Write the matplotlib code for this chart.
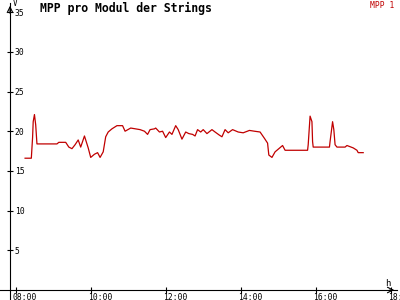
import matplotlib
matplotlib.use("Agg")
import matplotlib.pyplot as plt
import matplotlib.transforms as mtransforms

# MPP 1 readings (time of day, volts)
times = ["08:15", "08:25", "08:27", "08:28", "08:30", "08:32", "08:34", "08:52",
         "09:06", "09:09", "09:20", "09:25", "09:30", "09:35", "09:40", "09:44",
         "09:50", "09:56", "10:00", "10:06", "10:11", "10:15", "10:20", "10:24",
         "10:28", "10:34", "10:42", "10:51", "10:55", "11:04", "11:19", "11:26",
         "11:31", "11:35", "11:42", "11:44", "11:50", "11:55", "12:00", "12:06",
         "12:10", "12:16", "12:20", "12:26", "12:32", "12:37", "12:43", "12:47",
         "12:51", "12:56", "13:00", "13:06", "13:14", "13:19", "13:26", "13:30",
         "13:35", "13:40", "13:47", "13:56", "14:04", "14:14", "14:22", "14:31",
         "14:38", "14:43", "14:45", "14:50", "14:55", "15:01", "15:07", "15:11",
         "15:47", "15:48", "15:51", "15:54", "15:55", "15:56", "16:22", "16:23",
         "16:27", "16:29", "16:31", "16:34", "16:47", "16:50", "17:00", "17:06",
         "17:08", "17:16"]
mpp1 = [16.6, 16.6, 19.2, 21.2, 22.1, 20.8, 18.4, 18.4,
        18.4, 18.6, 18.6, 18.0, 17.8, 18.3, 18.9, 18.0,
        19.4, 17.9, 16.7, 17.1, 17.3, 16.7, 17.4, 19.3,
        19.9, 20.3, 20.7, 20.7, 20.0, 20.4, 20.2, 20.0,
        19.6, 20.2, 20.3, 20.4, 19.9, 20.0, 19.2, 19.9,
        19.6, 20.7, 20.2, 19.0, 19.9, 19.7, 19.6, 19.4,
        20.2, 19.9, 20.2, 19.7, 20.2, 19.9, 19.5, 19.3,
        20.2, 19.8, 20.2, 19.9, 19.8, 20.1, 20.0, 19.9,
        19.1, 18.5, 17.0, 16.7, 17.4, 17.8, 18.2, 17.6,
        17.6, 18.3, 21.9, 21.2, 18.7, 18.0, 18.0, 18.7,
        21.2, 20.2, 18.3, 18.0, 18.0, 18.2, 17.9, 17.6,
        17.3, 17.3]

xtick_hours = [8, 10, 12, 14, 16, 18]
xtick_labels = ["08:00", "10:00", "12:00", "14:00", "16:00", "18:"]
ytick_vals = [5, 10, 15, 20, 25, 30, 35]

title = "MPP pro Modul der Strings"
red = "#c00000"
mono = "DejaVu Sans Mono"


def to_hours(s):
    hh, mm = s.split(":")
    return int(hh) + int(mm) / 60.0


hours = [to_hours(t) for t in times]

fig = plt.figure(figsize=(4, 3), dpi=100)
ax = fig.add_axes([0, 0, 397 / 400, 297 / 300])
ax.set_xlim(7.5813, 18.168)
ax.set_ylim(-1.26, 36.15)

ax.plot(hours, mpp1, color=red, lw=0.9)

# axes crossing at 07:52 / 0 V
x0 = 7.848
ax.spines["left"].set_position(("data", x0))
ax.spines["bottom"].set_position(("data", 0))
ax.spines["top"].set_visible(False)
ax.spines["right"].set_visible(False)
for s in ("left", "bottom"):
    ax.spines[s].set_linewidth(0.8)

ax.set_xticks(xtick_hours)
ax.set_xticklabels(xtick_labels, family=mono, fontsize=5.8)
ax.set_yticks(ytick_vals)
ax.set_yticklabels([str(v) for v in ytick_vals], family=mono, fontsize=5.8)
ax.tick_params(axis="both", direction="inout", length=5, width=0.8)
ax.tick_params(axis="x", pad=0)
ax.tick_params(axis="y", pad=-6)

shift = mtransforms.ScaledTranslation(-3 / 100, 0, fig.dpi_scale_trans)
for lbl in ax.get_xticklabels():
    lbl.set_ha("left")
    lbl.set_transform(lbl.get_transform() + shift)
for lbl in ax.get_yticklabels():
    lbl.set_ha("left")

# arrow heads
ax.annotate("", xy=(x0, 36.15), xytext=(x0, 34.5),
            arrowprops=dict(arrowstyle="->", lw=0.8, color="black"),
            annotation_clip=False)
ax.annotate("", xy=(18.168, 0), xytext=(17.9, 0),
            arrowprops=dict(arrowstyle="->", lw=0.8, color="black"),
            annotation_clip=False)

fig.text(13 / 400, 1 - 4 / 300, "V", family=mono, fontsize=5.5, va="center")
fig.text(385 / 400, 1 - 283 / 300, "h", family=mono, fontsize=6.5, va="center")
fig.text(40 / 400, 1 - 8 / 300, title, family=mono, fontsize=8.3,
         fontweight="bold", va="center")
fig.text(370 / 400, 1 - 5 / 300, "MPP 1", family=mono, fontsize=5.8,
         color=red, va="center")

fig.savefig("out.png", dpi=100)
